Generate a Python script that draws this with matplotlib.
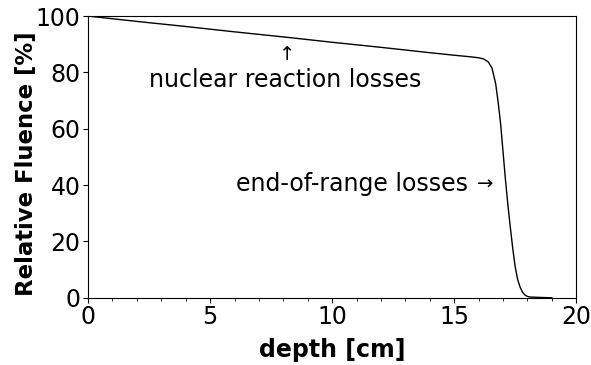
from matplotlib import pyplot as plt
from matplotlib.ticker import MultipleLocator

# Depth in cm and relative fluence in percent.
depth = [0.0, 2.0, 4.0, 6.0, 8.0, 10.0, 12.0, 14.0, 15.0, 15.6, 16.0, 16.2,
         16.4, 16.55, 16.7, 16.8, 16.9, 17.0, 17.1, 17.2, 17.3, 17.4, 17.5,
         17.6, 17.7, 17.8, 17.9, 18.0, 18.1, 18.5, 19.0]
fluence = [100.0, 98.1, 96.3, 94.4, 92.6, 90.7, 88.9, 87.0, 86.1, 85.6, 85.2,
           84.8, 83.7, 81.5, 76.0, 69.5, 62.0, 52.0, 42.0, 33.0, 25.0, 17.5,
           11.0, 6.5, 3.8, 2.0, 1.0, 0.5, 0.3, 0.15, 0.0]

plt.figure(figsize=(5.91, 3.65), dpi=100)
ax = plt.gca()
ax.plot(depth, fluence, color='black', linewidth=1.0)

ax.set_xlim(0, 20)
ax.set_ylim(0, 100)
ax.xaxis.set_major_locator(MultipleLocator(5))
ax.xaxis.set_minor_locator(MultipleLocator(1))
ax.yaxis.set_major_locator(MultipleLocator(20))
ax.tick_params(labelsize=17, pad=2)

ax.set_xlabel('depth [cm]', fontsize=17, fontweight='bold', labelpad=6)
ax.set_ylabel('Relative Fluence [%]', fontsize=16.4, fontweight='bold',
              labelpad=-2)
ax.yaxis.label.set_y(0.475)

# annotations, arrows drawn a bit smaller than the text
ax.text(8.15, 86.3, '\u2191', fontsize=14, ha='center', va='center')
ax.text(8.07, 77.3, 'nuclear reaction losses', fontsize=17, ha='center',
        va='center')
ax.text(15.55, 40.4, 'end-of-range losses', fontsize=17, ha='right',
        va='center')
ax.text(16.27, 40.4, '\u2192', fontsize=14, ha='center', va='center')

plt.subplots_adjust(left=0.149, right=0.975, top=0.956, bottom=0.184)
plt.savefig('out.png', dpi=100)
